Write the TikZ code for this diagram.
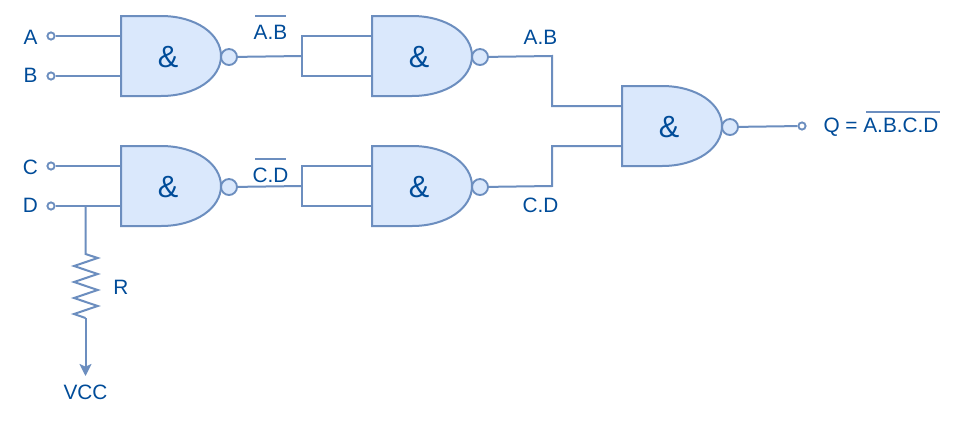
\documentclass[tikz,border=0pt]{standalone}
\usepackage{fontspec}
\setmainfont{Liberation Sans}
\usetikzlibrary{arrows.meta}
\definecolor{wire}{HTML}{6C8EBF}
\definecolor{gatefill}{HTML}{DAE8FC}
\definecolor{txt}{HTML}{004C99}
\tikzset{
  wireline/.style={draw=wire,line width=1.5pt,line join=miter},
  overbar/.style={draw=wire,line width=1.5pt},
  label/.style={text=txt,font=\fontsize{15.6pt}{18pt}\selectfont,inner sep=0pt},
  terminal/.style={circle,draw=wire,fill=white,line width=1.4pt,minimum size=5.4pt,inner sep=0pt},
  bubble/.style={circle,draw=wire,fill=gatefill,line width=1.4pt,minimum size=12pt,inner sep=0pt},
  nand/.pic={
    \path[wireline,fill=gatefill] (0,0) -- (40,0) .. controls (75,0) and (100,18) .. (100,40)
      .. controls (100,62) and (75,80) .. (40,80) -- (0,80) -- cycle;
    \node[text=txt,font=\fontsize{23pt}{26pt}\selectfont,inner sep=0pt] (-body) at (47,41) {\&};
    \node[bubble] (-bubble) at (108,41) {};
    \coordinate (-in1) at (0,20);
    \coordinate (-in2) at (0,60);
  }
}
\begin{document}
\begin{tikzpicture}[x=0.75pt,y=-0.75pt]
\useasboundingbox (0,0) rectangle (961,422);
\fill[white] (0,0) rectangle (961,422);
% gates
\pic (g1) at (121,16) {nand};
\pic (g2) at (372,16) {nand};
\pic (g3) at (121,146) {nand};
\pic (g4) at (372,146) {nand};
\pic (g5) at (622,86) {nand};
% terminals
\node[terminal] (ta) at (51,36) {};
\node[terminal] (tb) at (51,76) {};
\node[terminal] (tc) at (51,166) {};
\node[terminal] (td) at (51,206) {};
\node[terminal] (tq) at (802,126) {};
% helpers
\coordinate (j1) at (302,56);
\coordinate (j3) at (302,186);
\coordinate (jd) at (85.5,206);
\coordinate (rtop) at (85.5,254);
\coordinate (rbot) at (85.5,318);
\coordinate (vcctip) at (85.5,376);
% wires
\draw[wireline] (ta) -- (g1-in1);
\draw[wireline] (tb) -- (g1-in2);
\draw[wireline] (tc) -- (g3-in1);
\draw[wireline] (td) -- (g3-in2);
\draw[wireline] (g1-bubble) -- (j1);
\draw[wireline] (g3-bubble) -- (j3);
\draw[wireline] (g2-in1) -| (j1) |- (g2-in2);
\draw[wireline] (g4-in1) -| (j3) |- (g4-in2);
\draw[wireline] (g2-bubble) -- (552,56) |- (g5-in1);
\draw[wireline] (g4-bubble) -- (552,186) |- (g5-in2);
\draw[wireline] (g5-bubble) -- (tq);
\draw[wireline] (jd) -- (rtop) -- (97.7,258) -- (74,266) -- (97.7,274) -- (74,282) -- (97.7,290) -- (74,298) -- (97.7,306) -- (74,314) -- (rbot);
\draw[wireline,-{Stealth[length=9pt,width=9pt,inset=2pt]}] (rbot) -- (vcctip);
% labels
\node[label] (la) at (30.5,37) {A};
\node[label] (lb) at (30.5,75) {B};
\node[label] (lc) at (30.5,167) {C};
\node[label] (ld) at (30.5,205) {D};
\node[label] (lab) at (270.5,32) {A.B};
\node[label] (lcd) at (270.5,175) {C.D};
\node[label] (lab2) at (540.5,37) {A.B};
\node[label] (lcd2) at (540.5,205) {C.D};
\node[label] (lq) at (881,127) {Q = A.B.C.D};
\node[label] (lr) at (121,287) {R};
\node[label] (lvcc) at (85.5,392) {VCC};
% overbars
\draw[overbar] (255,16) -- (286,16);
\draw[overbar] (255,159) -- (286,159);
\draw[overbar] (866,112) -- (940,112);
\end{tikzpicture}
\end{document}
